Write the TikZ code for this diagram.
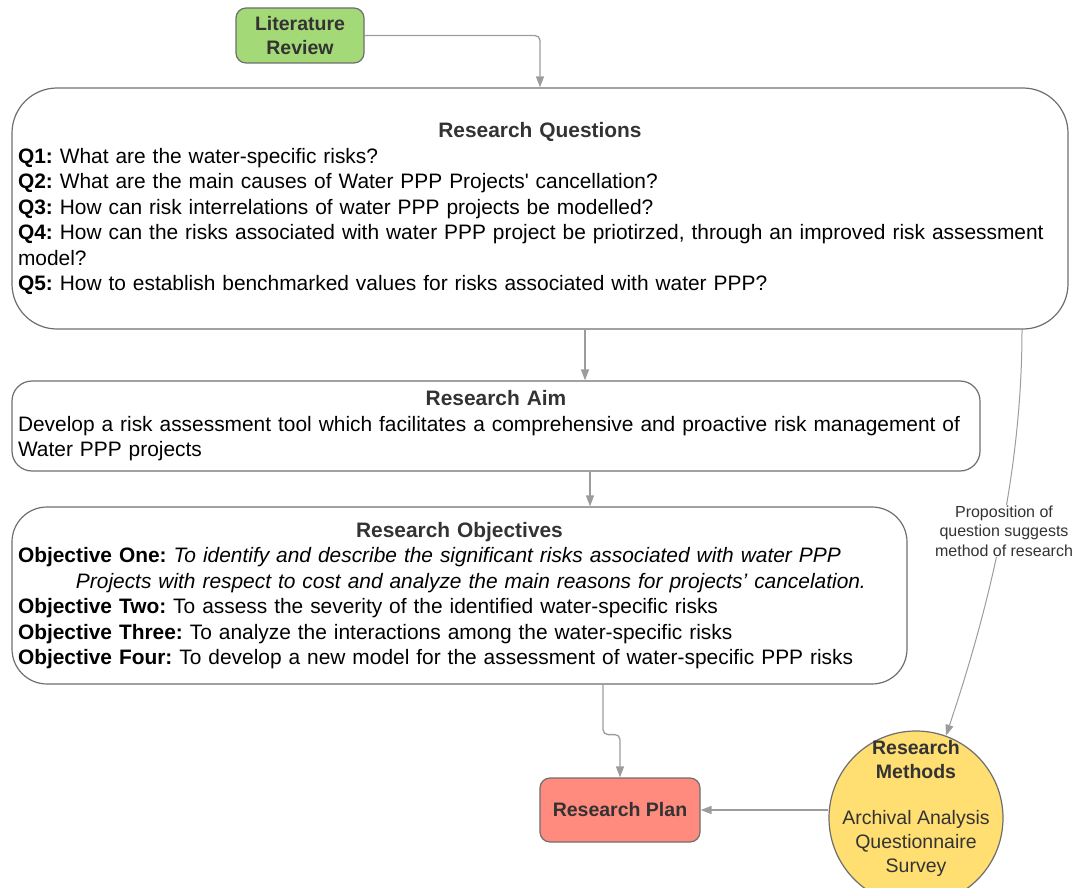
\documentclass[tikz,border=0pt]{standalone}
\usepackage{fontspec}
\setmainfont{Liberation Sans}
\usepackage{xcolor}
\usetikzlibrary{positioning,calc,arrows.meta}

\definecolor{boxgray}{HTML}{6E6E6E}
\definecolor{arrgray}{HTML}{9C9C9C}
\definecolor{titlegray}{HTML}{333333}
\definecolor{litgreen}{HTML}{A3D977}
\definecolor{plansalmon}{HTML}{FF8B7E}
\definecolor{methyellow}{HTML}{FFDE72}

\newcommand{\bodyfont}{\fontsize{20.9}{25.5}\selectfont\frenchspacing}

\begin{document}
\begin{tikzpicture}[x=1pt,y=-1pt,
    rbox/.style={draw=boxgray, line width=1.2pt, rounded corners=#1, inner sep=6pt},
    flow/.style={draw=arrgray, line width=1.3pt, -{Triangle[length=11pt,width=8pt]}},
    ttl/.style={font=\bfseries\fontsize{19.5}{23.5}\selectfont, text=titlegray, align=center}]
    \useasboundingbox (0,0) rectangle (1080,888);

    % Boxes
    \node[rbox=10pt, fill=litgreen, minimum width=128pt, minimum height=55pt, ttl] (lit) at (300,35.5) {Literature\\Review};

    \node[rbox=45pt, minimum width=1056pt, minimum height=241pt, text width=1044pt, align=left, font=\bodyfont] (rq) at (540,208.5)
    {\makebox[\hsize]{\color{titlegray}\bfseries Research Questions}\\
     \textbf{Q1:} What are the water-specific risks?\\
     \textbf{Q2:} What are the main causes of Water PPP Projects\textquotesingle{} cancellation?\\
     \textbf{Q3:} How can risk interrelations of water PPP projects be modelled?\\
     \textbf{Q4:} How can the risks associated with water PPP project be priotirzed, through an improved risk assessment\\
     model?\\
     \textbf{Q5:} How to establish benchmarked values for risks associated with water PPP?};

    \node[rbox=20pt, minimum width=968pt, minimum height=90pt, text width=956pt, align=left, font=\bodyfont] (aim) at (496,426)
    {\makebox[\hsize]{\color{titlegray}\bfseries Research Aim}\\
     Develop a risk assessment tool which facilitates a comprehensive and proactive risk management of\\
     Water PPP projects};

    \node[rbox=35pt, minimum width=895pt, minimum height=177pt, text width=883pt, align=left, font=\bodyfont] (obj) at (459.5,595.5)
    {\makebox[\hsize]{\color{titlegray}\bfseries Research Objectives}\\
     \textbf{Objective One:} \textit{To identify and describe the significant risks associated with water PPP}\\
     \hspace*{58pt}\textit{Projects with respect to cost and analyze the main reasons for projects’ cancelation.}\\
     \textbf{Objective Two:} To assess the severity of the identified water-specific risks\\
     \textbf{Objective Three:} To analyze the interactions among the water-specific risks\\
     \textbf{Objective Four:} To develop a new model for the assessment of water-specific PPP risks};

    \node[rbox=10pt, fill=plansalmon, minimum width=160pt, minimum height=64pt, ttl] (plan) at (620,810) {Research Plan};

    \node[draw=boxgray, line width=1.2pt, fill=methyellow, circle, minimum size=174pt] (meth) at (916,818) {};
    \node[align=center, font=\fontsize{19.5}{24}\selectfont, text=titlegray] (methtxt) at ([yshift=10pt]meth.center)
    {\textbf{Research}\\\textbf{Methods}\\[22pt]Archival Analysis\\Questionnaire\\Survey};

    % Connectors
    \draw[flow, rounded corners=5pt] (lit.east) -| (rq.north);
    \draw[flow] ([xshift=45pt]rq.south) -- ([xshift=45pt]rq.south |- aim.north);
    \draw[flow] ([xshift=94pt]aim.south) -- ([xshift=94pt]aim.south |- obj.north);
    \draw[flow, rounded corners=5pt] ([xshift=143.5pt]obj.south) -- ++(0,50) -| (plan.north);
    \draw[flow] (meth.west |- plan.east) -- (plan.east);
    \draw[flow, line width=1pt] ([xshift=482pt]rq.south) .. controls (1022,460) and (995,590) .. (meth.70);
    \node[fill=white, inner sep=1pt, align=center, font=\fontsize{16}{19.5}\selectfont, text=titlegray] (prop) at (1004,531)
    {Proposition of\\question suggests\\method of research};
\end{tikzpicture}
\end{document}
